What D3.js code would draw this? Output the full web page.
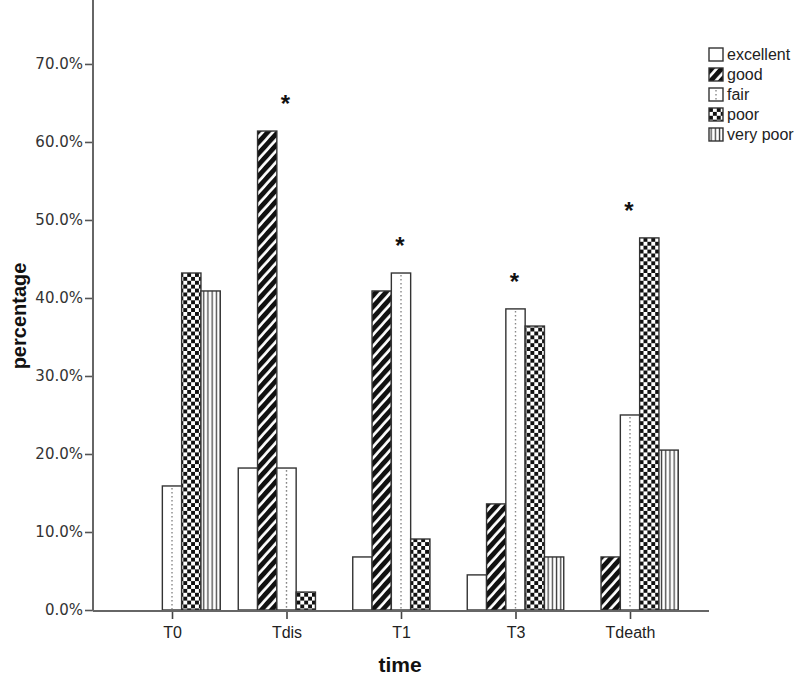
<!DOCTYPE html>
<html>
<head>
<meta charset="utf-8">
<script src="https://cdn.jsdelivr.net/npm/d3@7"></script>
<style>
  html, body { margin: 0; padding: 0; background: #fff; }
  svg { display: block; }
</style>
</head>
<body>
<svg id="chart" width="800" height="676"></svg>
<script>
// ---- data ----
const categories = ["T0", "Tdis", "T1", "T3", "Tdeath"];
const seriesNames = ["excellent", "good", "fair", "poor", "very poor"];
const excellent = [0, 18.2, 6.8, 4.5, 0];
const good      = [0, 61.4, 40.9, 13.6, 6.8];
const fair      = [15.9, 18.2, 43.2, 38.6, 25.0];
const poor      = [43.2, 2.3, 9.1, 36.4, 47.7];
const veryPoor  = [40.9, 0, 0, 6.8, 20.5];
const significant = [false, true, true, true, true];
const yTicks = [0, 10, 20, 30, 40, 50, 60, 70];
const yLabel = "percentage";
const xLabel = "time";

const seriesValues = [excellent, good, fair, poor, veryPoor];
const rows = [];
categories.forEach((c, ci) => {
  seriesNames.forEach((s, si) => rows.push({ cat: c, ci, series: s, si, value: seriesValues[si][ci] }));
});

// ---- chart ----
const svg = d3.select("#chart");
const axisLeftX = 93, axisRightX = 709, yBottom = 610, yTop = 0;

const x = d3.scalePoint().domain(categories).range([axisLeftX, axisRightX]).padding(0.69);
const groupWidth = 96.5;
const x1 = d3.scaleBand().domain(seriesNames).range([-groupWidth / 2, groupWidth / 2]).padding(0);
const y = d3.scaleLinear().domain([0, 78.2]).range([yBottom, yTop]);

// patterns
const defs = svg.append("defs");
const pGood = defs.append("pattern").attr("id", "p-good").attr("patternUnits", "userSpaceOnUse")
  .attr("width", 7.5).attr("height", 10).attr("patternTransform", "rotate(42)");
pGood.append("rect").attr("width", 7.5).attr("height", 10).attr("fill", "#fff");
pGood.append("rect").attr("x", 0).attr("width", 4.8).attr("height", 10).attr("fill", "#111");

const cell = 3.9;
const pPoor = defs.append("pattern").attr("id", "p-poor").attr("patternUnits", "userSpaceOnUse")
  .attr("width", cell * 2).attr("height", cell * 2);
pPoor.append("rect").attr("width", cell * 2).attr("height", cell * 2).attr("fill", "#fff");
pPoor.append("rect").attr("x", 0).attr("y", 0).attr("width", cell).attr("height", cell).attr("fill", "#111");
pPoor.append("rect").attr("x", cell).attr("y", cell).attr("width", cell).attr("height", cell).attr("fill", "#111");

const pVery = defs.append("pattern").attr("id", "p-very").attr("patternUnits", "userSpaceOnUse")
  .attr("width", 4.2).attr("height", 10);
pVery.append("rect").attr("width", 4.2).attr("height", 10).attr("fill", "#fff");
pVery.append("rect").attr("x", 1.5).attr("width", 1.3).attr("height", 10).attr("fill", "#444");

const fills = {
  "excellent": "#fff",
  "good": "url(#p-good)",
  "fair": "#fff",
  "poor": "url(#p-poor)",
  "very poor": "url(#p-very)"
};

// bars
const bars = svg.append("g").attr("class", "bars");
const visible = rows.filter(d => d.value > 0);
bars.selectAll("rect.bar").data(visible).join("rect")
  .attr("class", "bar")
  .attr("x", d => x(d.cat) + x1(d.series))
  .attr("y", d => y(d.value))
  .attr("width", x1.bandwidth())
  .attr("height", d => y(0) - y(d.value))
  .attr("fill", d => fills[d.series])
  .attr("stroke", "#333")
  .attr("stroke-width", 1.4);

// dotted centre line for "fair"
bars.selectAll("line.fairdot").data(visible.filter(d => d.series === "fair")).join("line")
  .attr("class", "fairdot")
  .attr("x1", d => x(d.cat) + x1(d.series) + x1.bandwidth() / 2)
  .attr("x2", d => x(d.cat) + x1(d.series) + x1.bandwidth() / 2)
  .attr("y1", d => y(d.value) + 2)
  .attr("y2", y(0) - 1)
  .attr("stroke", "#888")
  .attr("stroke-width", 1.4)
  .attr("stroke-dasharray", "1.6,2.4");

// significance asterisks
const maxVals = categories.map((c, ci) => d3.max(seriesValues, s => s[ci]));
svg.append("g").selectAll("text").data(categories.filter((c, i) => significant[i])).join("text")
  .attr("x", c => x(c) - 1)
  .attr("y", c => y(maxVals[categories.indexOf(c)]) - 19)
  .attr("text-anchor", "middle")
  .attr("font-family", "Liberation Sans, Arial, sans-serif")
  .attr("font-weight", "bold")
  .attr("font-size", 24)
  .attr("fill", "#111")
  .text("*");

// y axis
const yAxis = svg.append("g").attr("transform", `translate(${axisLeftX},0)`)
  .call(d3.axisLeft(y).tickValues(yTicks.map(v => v)).tickSize(8).tickPadding(2)
    .tickFormat(v => v.toFixed(1) + "%"));
yAxis.select(".domain").remove();
yAxis.selectAll(".tick line").attr("stroke", "#555").attr("stroke-width", 1.6);
yAxis.selectAll(".tick text").attr("font-family", "DejaVu Sans, Verdana, sans-serif")
  .attr("font-size", 15).attr("fill", "#333");
svg.append("line").attr("x1", axisLeftX).attr("x2", axisLeftX).attr("y1", 0).attr("y2", yBottom + 1)
  .attr("stroke", "#666").attr("stroke-width", 2);

// x axis
const xAxis = svg.append("g").attr("transform", `translate(0,${yBottom + 1})`)
  .call(d3.axisBottom(x).tickSize(8).tickPadding(8));
xAxis.select(".domain").remove();
xAxis.selectAll(".tick line").attr("stroke", "#444").attr("stroke-width", 1.6);
xAxis.selectAll(".tick text").attr("font-family", "Liberation Sans, Arial, sans-serif")
  .attr("font-size", 16).attr("fill", "#222");
svg.append("line").attr("x1", axisLeftX).attr("x2", axisRightX).attr("y1", yBottom + 1).attr("y2", yBottom + 1)
  .attr("stroke", "#666").attr("stroke-width", 2);

// axis titles
svg.append("text")
  .attr("transform", "translate(400,672)")
  .attr("text-anchor", "middle")
  .attr("font-family", "Liberation Sans, Arial, sans-serif")
  .attr("font-weight", "bold").attr("font-size", 21).attr("fill", "#111")
  .text(xLabel);
svg.append("text")
  .attr("transform", "translate(26,316) rotate(-90)")
  .attr("text-anchor", "middle")
  .attr("font-family", "Liberation Sans, Arial, sans-serif")
  .attr("font-weight", "bold").attr("font-size", 20).attr("fill", "#111")
  .text(yLabel);

// legend
const legend = svg.append("g").attr("transform", "translate(709,48)");
const li = legend.selectAll("g").data(seriesNames).join("g")
  .attr("transform", (d, i) => `translate(0,${i * 20})`);
li.append("rect").attr("width", 14).attr("height", 13)
  .attr("fill", d => fills[d]).attr("stroke", "#333").attr("stroke-width", 1.4);
li.filter(d => d === "fair").append("line")
  .attr("x1", 7).attr("x2", 7).attr("y1", 2).attr("y2", 12)
  .attr("stroke", "#888").attr("stroke-width", 1.4).attr("stroke-dasharray", "1.6,2.4");
li.append("text").attr("x", 18).attr("y", 12)
  .attr("font-family", "Liberation Sans, Arial, sans-serif")
  .attr("font-size", 16).attr("fill", "#222")
  .text(d => d);
</script>
</body>
</html>
